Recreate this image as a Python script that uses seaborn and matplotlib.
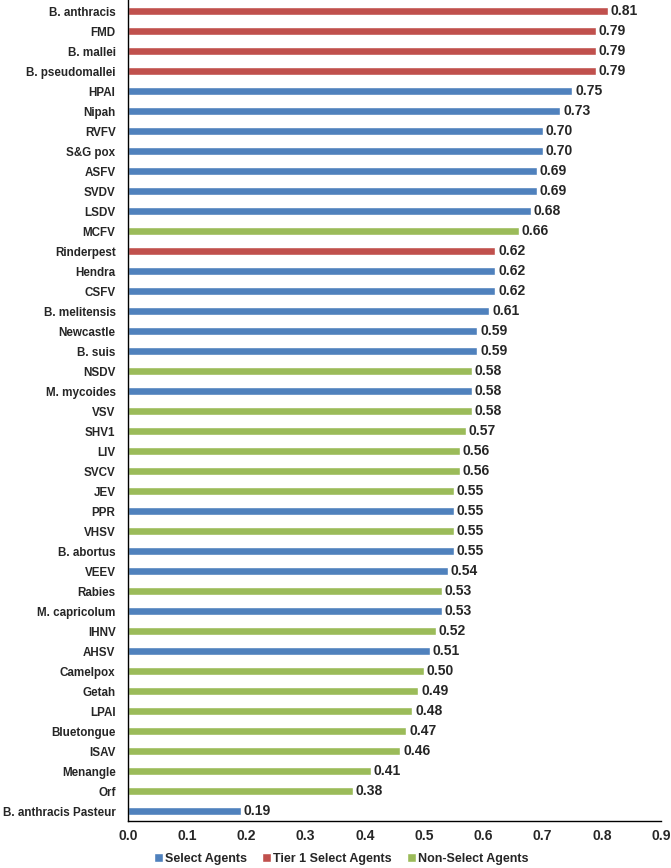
import pandas as pd
import matplotlib
matplotlib.use('Agg')
import matplotlib.pyplot as plt
import seaborn as sns

# Pathogens, score and agent class (top to bottom as in the figure)
agents = ['B. anthracis', 'FMD', 'B. mallei', 'B. pseudomallei', 'HPAI', 'Nipah', 'RVFV',
          'S&G pox', 'ASFV', 'SVDV', 'LSDV', 'MCFV', 'Rinderpest', 'Hendra', 'CSFV',
          'B. melitensis', 'Newcastle', 'B. suis', 'NSDV', 'M. mycoides', 'VSV', 'SHV1',
          'LIV', 'SVCV', 'JEV', 'PPR', 'VHSV', 'B. abortus', 'VEEV', 'Rabies',
          'M. capricolum', 'IHNV', 'AHSV', 'Camelpox', 'Getah', 'LPAI', 'Bluetongue',
          'ISAV', 'Menangle', 'Orf', 'B. anthracis Pasteur']
scores = [0.81, 0.79, 0.79, 0.79, 0.75, 0.73, 0.70, 0.70, 0.69, 0.69, 0.68, 0.66, 0.62,
          0.62, 0.62, 0.61, 0.59, 0.59, 0.58, 0.58, 0.58, 0.57, 0.56, 0.56, 0.55, 0.55,
          0.55, 0.55, 0.54, 0.53, 0.53, 0.52, 0.51, 0.50, 0.49, 0.48, 0.47, 0.46, 0.41,
          0.38, 0.19]
S, T, N = 'Select Agents', 'Tier 1 Select Agents', 'Non-Select Agents'
groups = [T, T, T, T, S, S, S, S, S, S, S, N, T, S, S, S, S, S, N, S, N, N, N, N, N, S,
          N, S, S, N, S, N, S, N, N, N, N, N, N, N, S]
group_order = [S, T, N]
palette = {S: '#4F81BD', T: '#C0504D', N: '#9BBB59'}

df = pd.DataFrame({'Agent': agents, 'Score': scores, 'Group': groups})

sns.set_style('white')
plt.rcParams['font.family'] = ['Liberation Sans', 'DejaVu Sans']
plt.rcParams['font.weight'] = 'bold'

fig = plt.figure(figsize=(6.71, 8.68), dpi=100)
ax = fig.add_axes([0.1908, 0.0541, 0.7944, 0.9459])

sns.barplot(data=df, x='Score', y='Agent', hue='Group', hue_order=group_order,
            palette=palette, dodge=False, width=0.42, orient='h', ax=ax,
            saturation=1, legend=True)

for cont in ax.containers:
    ax.bar_label(cont, fmt='%.2f', padding=2, fontsize=10, fontweight='bold')

ax.set_xlim(0, 0.9)
ax.set_ylim(len(agents) - 0.5, -0.55)
ax.set_xticks([i / 10 for i in range(10)])
ax.set_xticklabels([f'{i / 10:.1f}' for i in range(10)], fontsize=10)
ax.tick_params(axis='y', labelsize=8.4, length=0, pad=9)
ax.tick_params(axis='x', length=0, pad=6)
ax.set_xlabel('')
ax.set_ylabel('')
for side in ['top', 'right']:
    ax.spines[side].set_visible(False)
for side in ['left', 'bottom']:
    ax.spines[side].set_color('black')
    ax.spines[side].set_linewidth(1)

ax.legend(loc='center', bbox_to_anchor=(0.40, -0.046), ncol=3, frameon=False,
          fontsize=9, handlelength=0.7, handleheight=0.7, handletextpad=0.2,
          columnspacing=1.2)

fig.savefig('out.png', dpi=100)
